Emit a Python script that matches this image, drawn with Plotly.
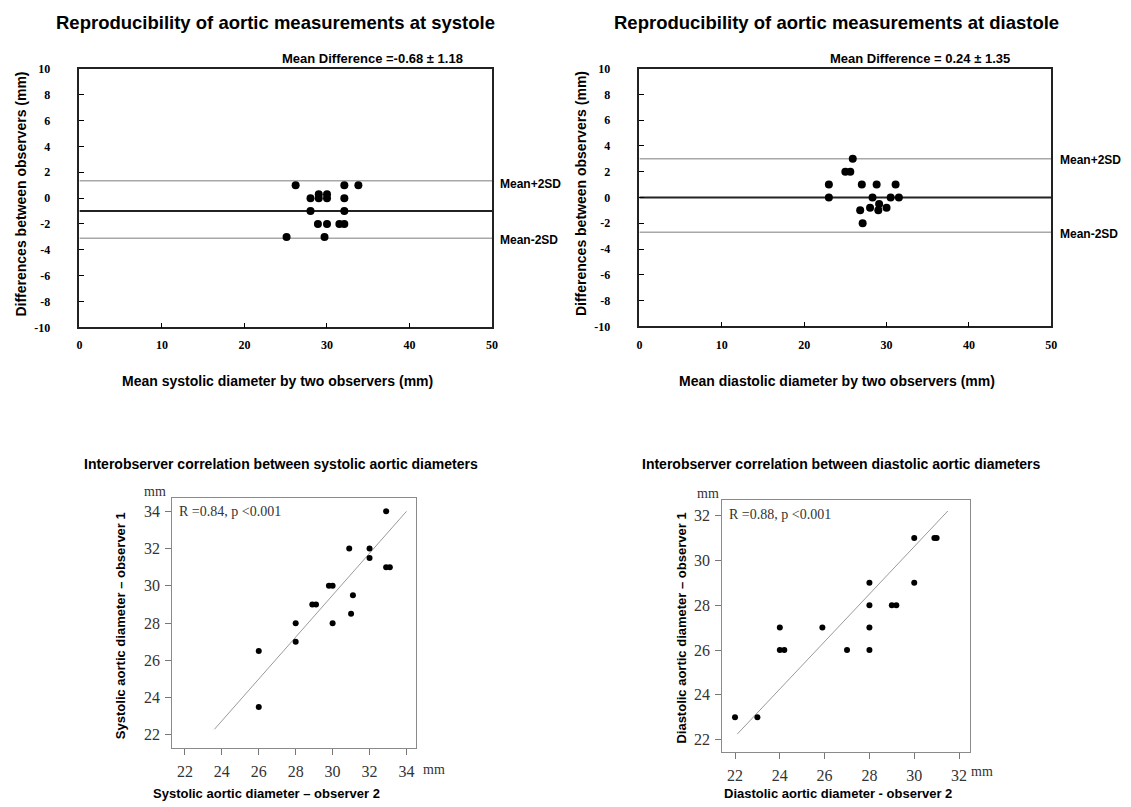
import plotly.graph_objects as go

W, H = 1131, 807

# ---------------- data ----------------
# Bland-Altman systole
sys_mean_x = [26.2, 32.1, 33.8, 28.0, 29.0, 30.0, 29.0, 30.0, 32.1, 28.0, 32.1, 28.9, 30.0, 31.5, 32.1, 25.1, 29.7]
sys_diff_y = [1.0, 1.0, 1.0, 0.0, 0.3, 0.3, 0.0, 0.0, 0.0, -1.0, -1.0, -2.0, -2.0, -2.0, -2.0, -3.0, -3.0]
sys_lines = {"mean": -1.0, "upper": 1.35, "lower": -3.1}

# Bland-Altman diastole
dia_mean_x = [25.9, 25.0, 25.6, 23.0, 27.0, 28.8, 31.1, 23.0, 28.3, 30.5, 31.5, 29.1, 26.8, 28.0, 29.0, 30.0, 27.1]
dia_diff_y = [3.0, 2.0, 2.0, 1.0, 1.0, 1.0, 1.0, 0.0, 0.0, 0.0, 0.0, -0.5, -1.0, -0.8, -1.0, -0.8, -2.0]
dia_lines = {"mean": 0.0, "upper": 3.0, "lower": -2.7}

# Correlation systole
sys_obs2 = [32.9, 30.9, 32.0, 32.0, 32.9, 33.1, 29.8, 30.0, 28.9, 29.1, 31.1, 31.0, 30.0, 28.0, 28.0, 26.0, 26.0]
sys_obs1 = [34.0, 32.0, 32.0, 31.5, 31.0, 31.0, 30.0, 30.0, 29.0, 29.0, 29.5, 28.5, 28.0, 28.0, 27.0, 26.5, 23.5]
sys_fit_x = [23.6, 34.0]
sys_fit_y = [22.3, 34.0]

# Correlation diastole
dia_obs2 = [22.0, 23.0, 24.0, 24.0, 24.2, 25.9, 27.0, 28.0, 28.0, 28.0, 28.0, 29.0, 29.2, 30.0, 30.0, 30.9, 31.0]
dia_obs1 = [23.0, 23.0, 27.0, 26.0, 26.0, 27.0, 26.0, 29.0, 28.0, 27.0, 26.0, 28.0, 28.0, 31.0, 29.0, 31.0, 31.0]
dia_fit_x = [22.1, 31.5]
dia_fit_y = [22.25, 32.2]

ba_ticks_x = [0, 10, 20, 30, 40, 50]
ba_ticks_y = [-10, -8, -6, -4, -2, 0, 2, 4, 6, 8, 10]
ba_ticklabels_y = ["-10", "-8", "-6", "-4", "-2", "0", "2", "4", "6", "8", "10"]
cor_ticks = [22, 24, 26, 28, 30, 32, 34]

# ---------------- helpers ----------------
def px(x):
    return x / W

def py(y):
    return 1 - y / H

SANS = "Liberation Sans"
SERIF = "Liberation Serif"

fig = go.Figure()

# Bland-Altman plots
for i, (mx, dy, lines) in enumerate([(sys_mean_x, sys_diff_y, sys_lines), (dia_mean_x, dia_diff_y, dia_lines)]):
    xa = "x" if i == 0 else "x2"
    ya = "y" if i == 0 else "y2"
    for key in ["upper", "lower"]:
        fig.add_trace(go.Scatter(x=[0, 50], y=[lines[key]] * 2, mode="lines",
                                 line=dict(color="#a8a8a8", width=1.5), xaxis=xa, yaxis=ya, showlegend=False,
                                 hoverinfo="skip"))
    fig.add_trace(go.Scatter(x=[0, 50], y=[lines["mean"]] * 2, mode="lines",
                             line=dict(color="#222222", width=2), xaxis=xa, yaxis=ya, showlegend=False,
                             hoverinfo="skip"))
    fig.add_trace(go.Scatter(x=mx, y=dy, mode="markers",
                             marker=dict(color="black", size=8, symbol="circle"),
                             xaxis=xa, yaxis=ya, showlegend=False))

# Correlation plots
for i, (ox, oy, fx, fy) in enumerate([(sys_obs2, sys_obs1, sys_fit_x, sys_fit_y), (dia_obs2, dia_obs1, dia_fit_x, dia_fit_y)]):
    xa = "x3" if i == 0 else "x4"
    ya = "y3" if i == 0 else "y4"
    fig.add_trace(go.Scatter(x=fx, y=fy, mode="lines", line=dict(color="#9a9a9a", width=1),
                             xaxis=xa, yaxis=ya, showlegend=False, hoverinfo="skip"))
    fig.add_trace(go.Scatter(x=ox, y=oy, mode="markers", marker=dict(color="black", size=6),
                             xaxis=xa, yaxis=ya, showlegend=False))

ba_tickfont = dict(family=SERIF, size=12, color="black", weight="bold")
cor_tickfont = dict(family=SERIF, size=16, color="#333333")

ba_x_common = dict(range=[0, 50], tickvals=ba_ticks_x, ticks="inside", ticklen=5, tickwidth=1.2,
                   tickcolor="black", showline=True, linecolor="#222222", linewidth=1.5, mirror=True,
                   showgrid=False, zeroline=False, tickfont=ba_tickfont, ticklabelstandoff=6)
ba_y_common = dict(range=[-10, 10], tickvals=ba_ticks_y, ticktext=ba_ticklabels_y, ticks="inside",
                   ticklen=5, tickwidth=1.2,
                   tickcolor="black", showline=True, linecolor="#222222", linewidth=1.5, mirror=True,
                   showgrid=False, zeroline=False, tickfont=ba_tickfont, ticklabelstandoff=25)

cor_x_common = dict(tickvals=cor_ticks, ticks="outside", ticklen=6, tickwidth=1, tickcolor="#777777",
                    showline=True, linecolor="#8a8a8a", linewidth=1.2, mirror=True, showgrid=False,
                    zeroline=False, tickfont=cor_tickfont, ticklabelstandoff=3)
cor_y_common = dict(tickvals=cor_ticks, ticks="outside", ticklen=6, tickwidth=1, tickcolor="#777777",
                    showline=True, linecolor="#8a8a8a", linewidth=1.2, mirror=True, showgrid=False,
                    zeroline=False, tickfont=cor_tickfont, ticklabelstandoff=2)

fig.update_layout(
    width=W, height=H, margin=dict(l=0, r=0, t=0, b=0),
    paper_bgcolor="white", plot_bgcolor="white",
    xaxis=dict(domain=[px(77), px(493)], anchor="y", **ba_x_common),
    yaxis=dict(domain=[py(326), py(63)], anchor="x", **ba_y_common),
    xaxis2=dict(domain=[px(641.5), px(1056.7)], anchor="y2", **ba_x_common),
    yaxis2=dict(domain=[py(325), py(62.7)], anchor="x2", **ba_y_common),
    xaxis3=dict(domain=[px(170.7), px(416)], anchor="y3", range=[21.32, 34.5], **cor_x_common),
    yaxis3=dict(domain=[py(754), py(500)], anchor="x3", range=[21.3, 34.7], **cor_y_common),
    xaxis4=dict(domain=[px(725), px(975)], anchor="y4", range=[21.43, 32.5],
                **{**cor_x_common, "tickvals": cor_ticks[:-1]}),
    yaxis4=dict(domain=[py(758), py(501.7)], anchor="x4", range=[21.46, 32.69],
                **{**cor_y_common, "tickvals": cor_ticks[:-1]}),
)

def ann(text, x, y, size, family=SANS, bold=True, xanchor="center", yanchor="middle", angle=0, color="black"):
    fig.add_annotation(text=text, x=px(x), y=py(y), xref="paper", yref="paper", showarrow=False,
                       xanchor=xanchor, yanchor=yanchor, textangle=angle,
                       font=dict(family=family, size=size, color=color, weight="bold" if bold else "normal"))

# Top titles
ann("Reproducibility of aortic measurements at systole", 275, 16, 18.5)
ann("Reproducibility of aortic measurements at diastole", 840, 16, 18.5)
ann("Mean Difference =-0.68 ± 1.18", 466, 52, 13, xanchor="right")
ann("Mean Difference = 0.24 ± 1.35", 1017, 52, 13, xanchor="right")
ann("Mean+2SD", 499, 180, 12, xanchor="left")
ann("Mean-2SD", 499, 237, 12, xanchor="left")
ann("Mean+2SD", 1063, 156, 12, xanchor="left")
ann("Mean-2SD", 1063, 231, 12, xanchor="left")
ann("Differences between observers (mm)", 18, 190, 14, angle=-90)
ann("Differences between observers (mm)", 582, 190, 14, angle=-90)
ann("Mean systolic diameter by two observers (mm)", 277, 381, 14)
ann("Mean diastolic diameter by two observers (mm)", 841, 381, 14)

# Bottom
ann("Interobserver correlation between systolic aortic diameters", 280, 465, 14)
ann("Interobserver correlation between diastolic aortic diameters", 845, 465, 14)
ann("Systolic aortic diameter – observer 1", 118, 630, 13, angle=-90)
ann("Diastolic aortic diameter – observer 1", 683, 632, 13, angle=-90)
ann("Systolic aortic diameter – observer 2", 266, 800, 13)
ann("Diastolic aortic diameter - observer 2", 842, 800, 13)
ann("mm", 153, 493, 14, family=SERIF, bold=False, color="#333333")
ann("mm", 434, 776, 14, family=SERIF, bold=False, color="#333333")
ann("mm", 711, 495, 14, family=SERIF, bold=False, color="#333333")
ann("mm", 987, 778, 14, family=SERIF, bold=False, color="#333333")
ann("R =0.84, p <0.001", 175, 513, 14, family=SERIF, bold=False, xanchor="left", color="#333333")
ann("R =0.88, p <0.001", 730, 516, 14, family=SERIF, bold=False, xanchor="left", color="#333333")

fig.write_html("out.html")
